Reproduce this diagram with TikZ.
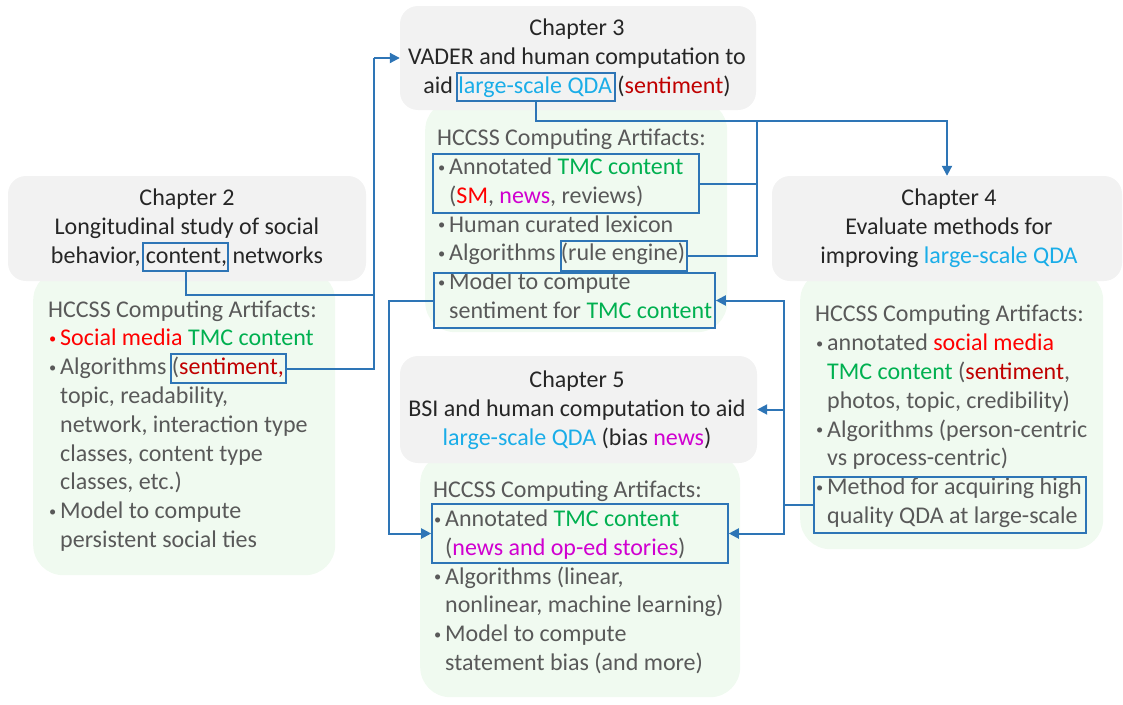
\documentclass[tikz,border=0pt]{standalone}
\usepackage{fontspec}
\usepackage{graphicx}
\setmainfont{Carlito}
\usetikzlibrary{arrows.meta}
\definecolor{lineblue}{HTML}{2E75B6}
\definecolor{greyfill}{HTML}{F2F2F2}
\definecolor{greenfill}{HTML}{F0FAF0}
\definecolor{headtext}{HTML}{262626}
\definecolor{bodytext}{HTML}{595959}
\definecolor{qdablue}{HTML}{1AADE8}
\definecolor{brightred}{HTML}{FF0000}
\definecolor{darkred}{HTML}{C00000}
\definecolor{tmcgreen}{HTML}{00B050}
\definecolor{newsmag}{HTML}{D000D0}
\newcommand{\bul}{\makebox[12pt][l]{\hspace{1pt}\raisebox{2.5pt}{\scalebox{0.6}{•}}}}
\newcommand{\ind}{\makebox[12pt][l]{}}
\newcommand{\qda}{\textcolor{qdablue}{large-scale QDA}}
\newcommand{\tmc}{\textcolor{tmcgreen}{TMC content}}
\newcommand{\arthead}{HCCSS Computing Artifacts:}
\tikzset{
  chapbox/.style={fill=greyfill, rounded corners=18pt, inner sep=0, draw=none},
  artbox/.style={fill=greenfill, rounded corners=30pt, inner sep=0, draw=none},
  headtxt/.style={font=\fontsize{24}{29}\selectfont, text=headtext, align=center, inner sep=0, anchor=base},
  bodytxt/.style={font=\fontsize{24}{28.8}\selectfont, text=bodytext, align=left, inner sep=0, anchor=base west},
  hl/.style={draw=lineblue, line width=1.6pt, inner sep=0, fill=none},
  conn/.style={draw=lineblue, line width=2pt},
  arr/.style={conn, -{Triangle[length=10pt,width=10pt]}}
}
\begin{document}
\begin{tikzpicture}[x=1pt,y=-1pt]
\useasboundingbox (0,0) rectangle (1123,704);

% artifact panels (drawn first, partly tucked under the chapter boxes)
\node[artbox, minimum width=302pt, minimum height=305pt, anchor=north west] (g2) at (33,270) {};
\node[artbox, minimum width=302pt, minimum height=232pt, anchor=north west] (g3) at (425,100) {};
\node[artbox, minimum width=303pt, minimum height=279pt, anchor=north west] (g4) at (800,270) {};
\node[artbox, minimum width=320pt, minimum height=244pt, anchor=north west] (g5) at (420,453) {};

% chapter boxes
\node[chapbox, minimum width=358pt, minimum height=105pt] (c2) at (187,228.5) {};
\node[chapbox, minimum width=356pt, minimum height=104pt] (c3) at (578,58) {};
\node[chapbox, minimum width=350pt, minimum height=105pt] (c4) at (947,228.5) {};
\node[chapbox, minimum width=357pt, minimum height=107pt] (c5) at (578.5,409.5) {};

% chapter titles (anchored on the baseline of their last line)
\node[headtxt] (t2) at (187,263) {Chapter 2\\Longitudinal study of social\\behavior, content, networks};
\node[headtxt] (t3) at (577,93) {Chapter 3\\VADER and human computation to\\aid \qda{} (\textcolor{darkred}{sentiment})};
\node[headtxt] (t4) at (949,263) {Chapter 4\\Evaluate methods for\\improving \qda};
\node[headtxt] (t5) at (577,445) {Chapter 5\\BSI and human computation to aid\\\qda{} (bias \textcolor{newsmag}{news})};

% artifact lists (anchored on the baseline of their last line)
\node[bodytxt] (b2) at (48,547.5) {\arthead\\
\textcolor{brightred}{\bul Social media} \tmc\\
\bul Algorithms (\textcolor{darkred}{sentiment,}\\
\ind topic, readability,\\
\ind network, interaction type\\
\ind classes, content type\\
\ind classes, etc.)\\
\bul Model to compute\\
\ind persistent social ties};

\node[bodytxt] (b3) at (437,318.5) {\arthead\\
\bul Annotated \tmc\\
\ind (\textcolor{brightred}{SM}, \textcolor{newsmag}{news}, reviews)\\
\bul Human curated lexicon\\
\bul Algorithms (rule engine)\\
\bul Model to compute\\
\ind sentiment for \tmc};

\node[bodytxt] (b4) at (815,523.5) {\arthead\\
\bul annotated \textcolor{brightred}{social media}\\
\ind \tmc{} (\textcolor{darkred}{sentiment},\\
\ind photos, topic, credibility)\\
\bul Algorithms (person-centric\\
\ind vs process-centric)\\
\bul Method for acquiring high\\
\ind quality QDA at large-scale};

\node[bodytxt] (b5) at (433,670.5) {\arthead\\
\bul Annotated \tmc\\
\ind (\textcolor{newsmag}{news and op-ed stories})\\
\bul Algorithms (linear,\\
\ind nonlinear, machine learning)\\
\bul Model to compute\\
\ind statement bias (and more)};

% highlighted phrases
\node[hl, minimum width=85pt, minimum height=28pt] (content2) at (185.5,257) {};
\node[hl, minimum width=115pt, minimum height=29pt] (sent2) at (228.5,368.5) {};
\node[hl, minimum width=158pt, minimum height=28pt] (qda3) at (536,87) {};
\node[hl, minimum width=266pt, minimum height=59pt] (ann3) at (566,183.5) {};
\node[hl, minimum width=126pt, minimum height=30pt] (rule3) at (624,256) {};
\node[hl, minimum width=281pt, minimum height=55pt] (model3) at (574.5,300.5) {};
\node[hl, minimum width=272pt, minimum height=56pt] (meth4) at (950,505) {};
\node[hl, minimum width=296pt, minimum height=59pt] (ann5) at (580,533.5) {};

% Chapter 2 -> Chapter 3
\coordinate (j2) at (374,58);
\draw[conn] (content2.south) |- (374,295);
\draw[conn] (sent2.east) -| (j2);
\draw[arr] (j2) -- (c3.west);

% Chapter 3 -> Chapter 4
\coordinate (j3) at (757,121);
\draw[arr] (qda3.south) |- (j3) -| (c4.north);
\draw[conn] (ann3.east) -| (j3);
\draw[conn] (rule3.east) -| (j3);

% Chapter 4 -> Chapters 3 and 5
\coordinate (j4) at (784,505);
\draw[conn] (meth4.west) -- (j4);
\draw[arr] (j4) |- (model3.east);
\draw[arr] (j4) |- (c5.east);
\draw[arr] (j4) |- (ann5.east);

% Chapter 3 -> Chapter 5
\draw[arr] (model3.west) -- ++(-44,0) |- (ann5.west);
\end{tikzpicture}
\end{document}
